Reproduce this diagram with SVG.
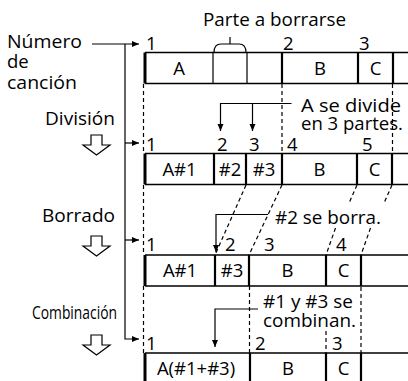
<svg xmlns="http://www.w3.org/2000/svg" width="408" height="381" viewBox="0 0 408 381">
<style>
text{font-family:"Open Sans","DejaVu Sans",sans-serif;font-size:18.5px;fill:#000}
.c{text-anchor:middle}
.e{text-anchor:end}
.edge{stroke:#000;stroke-width:1.5;fill:none}
.left{stroke:#000;stroke-width:3;fill:none}
.thick{stroke:#000;stroke-width:2.2;fill:none}
.thin{stroke:#000;stroke-width:1.2;fill:none}
.dash{stroke:#000;stroke-width:1.2;stroke-dasharray:4 3;fill:none}
.ln{stroke:#000;stroke-width:1.2;fill:none}
.hollow{fill:#fff;stroke:#000;stroke-width:1.2;stroke-linejoin:miter}
</style>
<defs>
<marker id="ah" markerUnits="userSpaceOnUse" markerWidth="8" markerHeight="7" refX="7" refY="3.5" orient="auto">
<path d="M0,0.5 L7,3.5 L0,6.5 Z" fill="#000"/>
</marker>
</defs>
<rect width="408" height="381" fill="#fff"/>

<g id="label-numero">
<text x="7" y="48" textLength="75" lengthAdjust="spacingAndGlyphs">Número</text>
<text x="7" y="68">de</text>
<text x="7" y="89" textLength="70" lengthAdjust="spacingAndGlyphs">canción</text>
</g>
<g id="label-division">
<text class="e" x="115" y="125" textLength="70" lengthAdjust="spacingAndGlyphs">División</text>
<path class="hollow" d="M91,135 H102 V145 H110 L96.5,155 L83,145 H91 Z"/>
</g>
<g id="label-borrado">
<text class="e" x="115" y="222" textLength="73" lengthAdjust="spacingAndGlyphs">Borrado</text>
<path class="hollow" d="M91,236 H102 V246 H110 L96.5,256 L83,246 H91 Z"/>
</g>
<g id="label-combinacion">
<text class="e" x="117" y="319" font-family="Liberation Sans" font-size="17" textLength="85" lengthAdjust="spacingAndGlyphs">Combinación</text>
<path class="hollow" d="M91,335 H102 V345 H110 L96.5,355 L83,345 H91 Z"/>
</g>

<g id="note-parte">
<text x="203" y="26" textLength="143" lengthAdjust="spacingAndGlyphs">Parte a borrarse</text>
<path class="ln" d="M214,52.5 Q214,44 221,44 H239 Q246,44 246,52.5 M230,44 V37"/>
</g>
<g id="note-divide">
<text x="301" y="112" textLength="100" lengthAdjust="spacingAndGlyphs">A se divide</text>
<text x="301" y="130" textLength="102" lengthAdjust="spacingAndGlyphs">en 3 partes.</text>
</g>
<g id="note-borra">
<text x="275" y="224" textLength="106" lengthAdjust="spacingAndGlyphs">#2 se borra.</text>
</g>
<g id="note-combinan">
<text x="263" y="308" textLength="90" lengthAdjust="spacingAndGlyphs">#1 y #3 se</text>
<text x="263" y="327" textLength="93" lengthAdjust="spacingAndGlyphs">combinan.</text>
</g>

<g id="bar1">
<path class="edge" d="M145,52.5 H408 M145,83.5 H408"/>
<path class="left" d="M145,52.5 V83.5"/>
<path class="thin" d="M213,52.5 V83.5 M247,52.5 V83.5"/>
<path class="thick" d="M282,52.5 V83.5 M358,52.5 V83.5 M393,52.5 V83.5"/>
<text class="c" x="179" y="75">A</text>
<text class="c" x="320" y="75">B</text>
<text class="c" x="375.5" y="75">C</text>
<text x="146" y="50">1</text>
<text x="283" y="50">2</text>
<text x="359" y="50">3</text>
</g>

<g id="bar2">
<path class="edge" d="M145,153.5 H408 M145,184.5 H408"/>
<path class="left" d="M145,153.5 V184.5"/>
<path class="thick" d="M214,153.5 V184.5 M246,153.5 V184.5 M282,153.5 V184.5 M357,153.5 V184.5 M392,153.5 V184.5"/>
<text class="c" x="179.5" y="176">A#1</text>
<text class="c" x="230" y="176">#2</text>
<text class="c" x="264" y="176">#3</text>
<text class="c" x="319.5" y="176">B</text>
<text class="c" x="374.5" y="176">C</text>
<text x="146" y="151">1</text>
<text x="217" y="151">2</text>
<text x="249" y="151">3</text>
<text x="287" y="151">4</text>
<text x="362" y="151">5</text>
</g>

<g id="bar3">
<path class="edge" d="M145,255 H408 M145,286 H408"/>
<path class="left" d="M145,255 V286"/>
<path class="thick" d="M215,255 V286 M249,255 V286 M326,255 V286 M361,255 V286"/>
<text class="c" x="180" y="277">A#1</text>
<text class="c" x="232" y="277">#3</text>
<text class="c" x="287.5" y="277">B</text>
<text class="c" x="343.5" y="277">C</text>
<text x="146" y="251">1</text>
<text x="225" y="251">2</text>
<text x="264" y="251">3</text>
<text x="336" y="251">4</text>
</g>

<g id="bar4">
<path class="edge" d="M145,353 H408 M145,384 H408"/>
<path class="left" d="M145,353 V384"/>
<path class="thick" d="M250,353 V384 M326,353 V384 M361,353 V384"/>
<text class="c" x="196" y="375">A(#1+#3)</text>
<text class="c" x="288" y="375">B</text>
<text class="c" x="343.5" y="375">C</text>
<text x="146" y="350">1</text>
<text x="255" y="350">2</text>
<text x="332" y="350">3</text>
</g>

<g id="connectors">
<path class="ln" d="M92,44 H139" marker-end="url(#ah)"/>
<path class="ln" d="M125,44 V339 H139" marker-end="url(#ah)"/>
<path class="ln" d="M125,143 H139" marker-end="url(#ah)"/>
<path class="ln" d="M125,240 H139" marker-end="url(#ah)"/>

<path class="ln" d="M291.5,103.5 H220.5 V131" marker-end="url(#ah)"/>
<path class="ln" d="M252.5,103.5 V131" marker-end="url(#ah)"/>
<path class="ln" d="M268,214.5 H216 V252" marker-end="url(#ah)"/>
<path class="ln" d="M258,309 H215 V347" marker-end="url(#ah)"/>

<path class="dash" d="M143.5,84 V153 M143.5,185 V255 M143.5,286 V353"/>
<path class="dash" d="M282,84 V153 M392.5,84 V153"/>
<path class="dash" d="M246,185 L215,255 M282,185 L249,255"/>
<path class="dash" d="M357,185 L349.5,202 M335.5,228 L326,255"/>
<path class="dash" d="M392,185 L384.5,202 M370.5,228 L361,255"/>
<path class="dash" d="M249.5,286 V353 M326,331 V353 M361,287 V353"/>
</g>
</svg>
